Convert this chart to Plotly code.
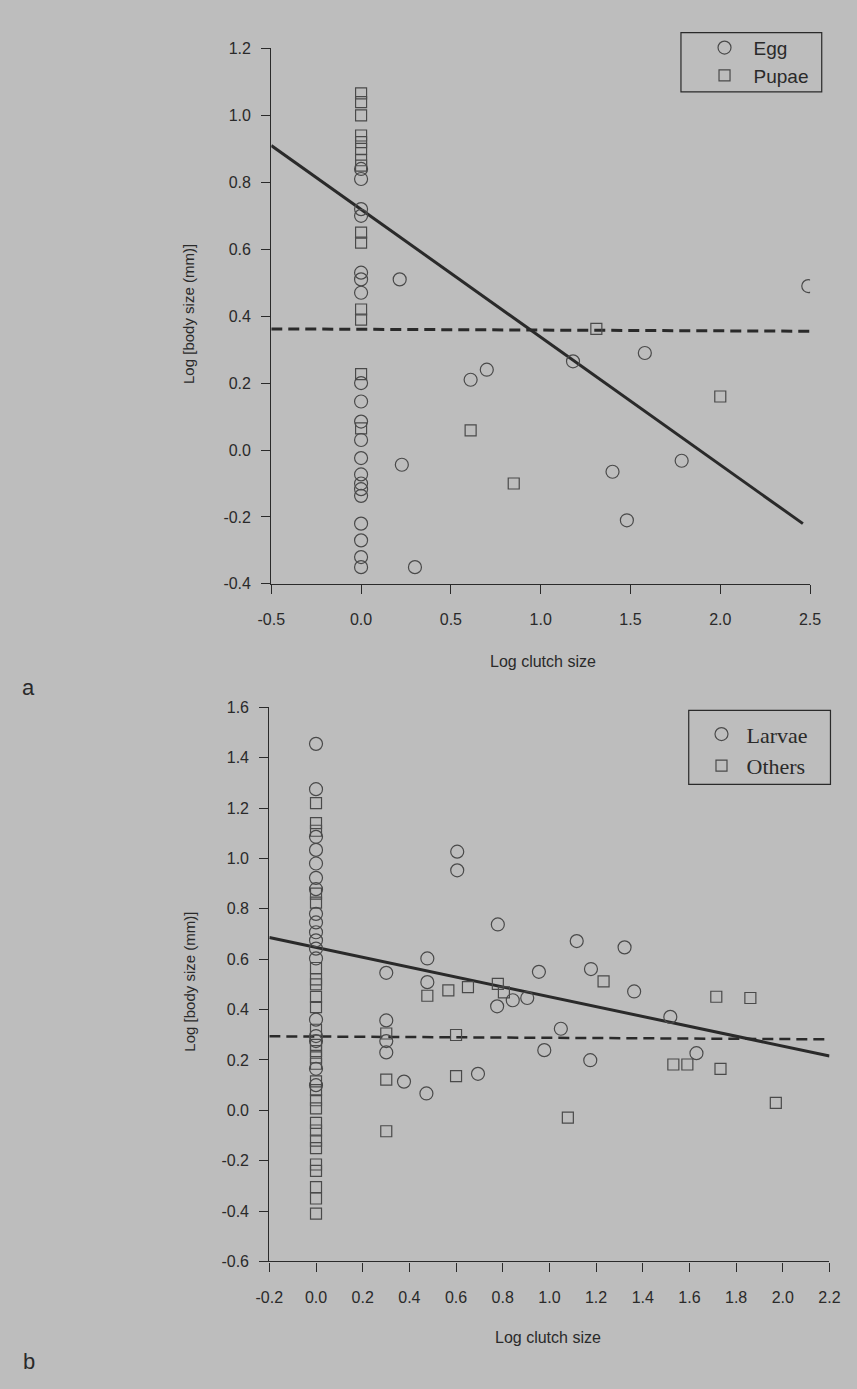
import plotly.graph_objects as go

# ---------------- Panel a data ----------------
egg_x = [0]*20 + [0.215, 0.227, 0.30, 0.61, 0.70, 1.18, 1.58, 1.40, 1.48, 1.785, 2.49]
egg_y = [0.84, 0.81, 0.72, 0.70, 0.53, 0.51, 0.47, 0.20, 0.145, 0.085, 0.03, -0.024,
         -0.073, -0.10, -0.117, -0.137, -0.22, -0.27, -0.32, -0.35,
         0.51, -0.044, -0.35, 0.21, 0.24, 0.265, 0.29, -0.065, -0.21, -0.032, 0.49]
pupae_x = [0]*14 + [1.31, 0.61, 0.85, 2.0]
pupae_y = [1.066, 1.04, 1.00, 0.94, 0.92, 0.90, 0.866, 0.85, 0.65, 0.62, 0.42, 0.39, 0.227, 0.065,
           0.362, 0.059, -0.10, 0.16]
a_fit_x = [-0.5, 2.46]
a_fit_y = [0.91, -0.22]
a_mean_x = [-0.5, 2.5]
a_mean_y = [0.362, 0.355]

# ---------------- Panel b data ----------------
larvae_x = [0]*18 + [0.605, 0.605, 0.779, 0.477, 0.301, 0.477, 0.776, 0.843, 0.905, 0.955,
                     1.117, 1.178, 1.322, 1.363, 1.518, 0.301, 1.049, 0.301, 0.978, 1.175,
                     1.63, 0.377, 0.473, 0.694, 0.301]
larvae_y = [1.455, 1.275, 1.086, 1.034, 0.98, 0.923, 0.878, 0.78, 0.746, 0.707, 0.675, 0.642,
            0.603, 0.36, 0.295, 0.275, 0.165, 0.10,
            1.027, 0.953, 0.738, 0.603, 0.546, 0.509, 0.413, 0.437, 0.446, 0.55,
            0.672, 0.561, 0.647, 0.472, 0.371, 0.357, 0.324, 0.23, 0.239, 0.199,
            0.227, 0.114, 0.067, 0.145, 0.275]
others_x = [0]*28 + [0.477, 0.567, 0.651, 0.779, 0.805, 1.232, 1.715, 1.861, 0.301, 0.60,
                     0.301, 0.60, 1.531, 1.591, 1.733, 1.97, 1.079, 0.301]
others_y = [1.22, 1.14, 1.11, 0.86, 0.825, 0.565, 0.52, 0.50, 0.45, 0.41, 0.32, 0.26, 0.235,
            0.21, 0.185, 0.115, 0.08, 0.04, 0.008, -0.05, -0.08, -0.12, -0.15, -0.215,
            -0.24, -0.305, -0.35, -0.41,
            0.455, 0.476, 0.489, 0.502, 0.468, 0.512, 0.451, 0.446, 0.305, 0.299,
            0.122, 0.136, 0.182, 0.182, 0.165, 0.03, -0.029, -0.083]
b_fit_x = [-0.2, 2.2]
b_fit_y = [0.686, 0.216]
b_mean_x = [-0.2, 2.2]
b_mean_y = [0.294, 0.282]

a_xticks = [-0.5, 0.0, 0.5, 1.0, 1.5, 2.0, 2.5]
a_yticks = [-0.4, -0.2, 0.0, 0.2, 0.4, 0.6, 0.8, 1.0, 1.2]
b_xticks = [-0.2, 0.0, 0.2, 0.4, 0.6, 0.8, 1.0, 1.2, 1.4, 1.6, 1.8, 2.0, 2.2]
b_yticks = [-0.6, -0.4, -0.2, 0.0, 0.2, 0.4, 0.6, 0.8, 1.0, 1.2, 1.4, 1.6]

W, H = 857, 1389
BG = "#bdbdbd"
INK = "#2a2a2a"
MK = "#4a4a4a"
SANS = "Liberation Sans, Arial, sans-serif"
SERIF = "Liberation Serif, Times New Roman, serif"

fig = go.Figure()

circ = dict(symbol="circle-open", size=13, color=MK, line=dict(width=1.2, color=MK))
sq = dict(symbol="square-open", size=11, color=MK, line=dict(width=1.2, color=MK))

# panel a
fig.add_trace(go.Scatter(x=a_mean_x, y=a_mean_y, mode="lines", showlegend=False,
                         line=dict(color=INK, width=3, dash="11px,6px"), xaxis="x", yaxis="y"))
fig.add_trace(go.Scatter(x=a_fit_x, y=a_fit_y, mode="lines", showlegend=False,
                         line=dict(color=INK, width=3), xaxis="x", yaxis="y"))
fig.add_trace(go.Scatter(x=egg_x, y=egg_y, mode="markers", name="Egg", marker=circ,
                         xaxis="x", yaxis="y", legend="legend"))
fig.add_trace(go.Scatter(x=pupae_x, y=pupae_y, mode="markers", name="Pupae", marker=sq,
                         xaxis="x", yaxis="y", legend="legend"))

# panel b
fig.add_trace(go.Scatter(x=b_mean_x, y=b_mean_y, mode="lines", showlegend=False,
                         line=dict(color=INK, width=2.5, dash="11px,6px"), xaxis="x2", yaxis="y2"))
fig.add_trace(go.Scatter(x=b_fit_x, y=b_fit_y, mode="lines", showlegend=False,
                         line=dict(color=INK, width=3), xaxis="x2", yaxis="y2"))
fig.add_trace(go.Scatter(x=larvae_x, y=larvae_y, mode="markers", name="Larvae", marker=circ,
                         xaxis="x2", yaxis="y2", legend="legend2"))
fig.add_trace(go.Scatter(x=others_x, y=others_y, mode="markers", name="Others", marker=sq,
                         xaxis="x2", yaxis="y2", legend="legend2"))

def ax(domain, rng, ticks, anchor, standoff):
    return dict(domain=domain, range=rng, tickvals=ticks, ticktext=[f"{t:.1f}" for t in ticks],
                showline=True, linecolor=INK, linewidth=1.2, ticks="outside", ticklen=9,
                tickcolor=INK, tickwidth=1.2, showgrid=False, zeroline=False, anchor=anchor,
                tickfont=dict(family=SANS, size=16, color=INK), ticklabelstandoff=standoff)

fig.update_layout(
    width=W, height=H, margin=dict(l=0, r=0, t=0, b=0), autosize=False,
    paper_bgcolor=BG, plot_bgcolor=BG,
    xaxis=ax([265/W, 820/W], [-0.5, 2.5], a_xticks, "y", 12),
    yaxis=ax([1-583/H, 1-41/H], [-0.4, 1.2], a_yticks, "x", 7),
    xaxis2=ax([263/W, 840/W], [-0.2, 2.2], b_xticks, "y2", 12),
    yaxis2=ax([1-1269/H, 1-708/H], [-0.6, 1.6], b_yticks, "x2", 7),
    legend=dict(x=702/W, y=1-21/H, xanchor="left", yanchor="top", bgcolor="rgba(0,0,0,0)",
                borderwidth=0, font=dict(family=SANS, size=19, color=INK),
                itemwidth=48, tracegroupgap=0),
    legend2=dict(x=703/W, y=1-714/H, xanchor="left", yanchor="top", bgcolor="rgba(0,0,0,0)",
                 borderwidth=0, font=dict(family=SERIF, size=22, color=INK),
                 itemwidth=40, tracegroupgap=0),
    showlegend=True,
    shapes=[
        dict(type="rect", xref="paper", yref="paper", x0=687/W, x1=832/W, y0=1-85/H, y1=1-25/H,
             line=dict(color=INK, width=1.2)),
        dict(type="rect", xref="paper", yref="paper", x0=695/W, x1=841/W, y0=1-786/H, y1=1-711/H,
             line=dict(color=INK, width=1.2)),
    ],
)

ann = [
    dict(text="Log clutch size", x=545/W, y=1-662/H, size=16),
    dict(text="Log clutch size", x=550/W, y=1-1346/H, size=16),
    dict(text="Log [body size (mm)]", x=179/W, y=1-310/H, textangle=-90, size=15),
    dict(text="Log [body size (mm)]", x=181/W, y=1-986/H, textangle=-90, size=15),
    dict(text="a", x=15/W, y=1-688/H, size=22),
    dict(text="b", x=15/W, y=1-1370/H, size=22),
]
for a in ann:
    s = a.pop("size")
    fig.add_annotation(xref="paper", yref="paper", showarrow=False, xanchor="center",
                       yanchor="middle", font=dict(family=SANS, size=s, color=INK), **a)

fig.write_html("out.html", config={"displayModeBar": False},
               post_script="document.body.style.margin='0';document.body.style.padding='0';"
                           "document.body.style.overflow='hidden';"
                           "document.documentElement.style.overflow='hidden';")
